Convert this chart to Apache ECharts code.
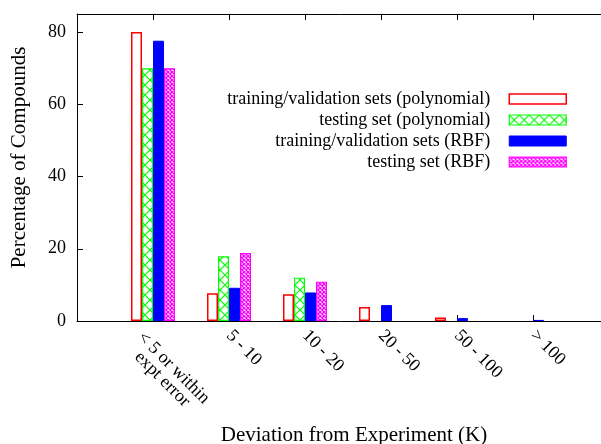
<!DOCTYPE html>
<html>
<head>
<meta charset="utf-8">
<script src="https://cdn.jsdelivr.net/npm/echarts@6/dist/echarts.min.js"></script>
<style>
  html, body { margin: 0; padding: 0; background: #fff; overflow: hidden; }
  #chart { width: 601px; height: 444px; }
</style>
</head>
<body>
<div id="chart"></div>
<script>
// Deviation bins on the horizontal axis
const categories = ['< 5 or within\nexpt error', '5 - 10', '10 - 20', '20 - 50', '50 - 100', '> 100'];

// Percentage of compounds in each bin
const trainPoly = [80, 7.7, 7.4, 3.9, 1.0, 0];
const testPoly = [70, 17.9, 12.0, 0, 0, 0];
const trainRbf = [77.6, 9.2, 7.9, 4.4, 0.8, 0.3];
const testRbf = [70, 18.8, 10.9, 0, 0, 0];

const seriesNames = [
  'training/validation sets (polynomial)',
  'testing set (polynomial)',
  'training/validation sets (RBF)',
  'testing set (RBF)'
];

const yTicks = [0, 20, 40, 60, 80];

const FONT = 'Liberation Serif';

// Hatch fills drawn on small tiles
function hatch(size, color, lw) {
  const c = document.createElement('canvas');
  c.width = size; c.height = size;
  const g = c.getContext('2d');
  g.fillStyle = '#fff';
  g.fillRect(0, 0, size, size);
  g.strokeStyle = color;
  g.lineWidth = lw;
  g.beginPath();
  g.moveTo(0, 0); g.lineTo(size, size);
  g.moveTo(size, 0); g.lineTo(0, size);
  g.stroke();
  return { image: c, repeat: 'repeat' };
}

const styles = [
  { color: '#ffffff', borderColor: '#ff0000', borderWidth: 1.5 },
  { color: hatch(10, '#00ff00', 1.2), borderColor: '#00ff00', borderWidth: 1.2 },
  { color: '#0000ff', borderColor: '#0000ff', borderWidth: 1 },
  { color: hatch(4, '#ff00ff', 1.3), borderColor: '#ff00ff', borderWidth: 1.2 }
];

// bin index paired with value; empty bins draw nothing
function points(values) {
  const out = [];
  values.forEach((v, i) => { if (v > 0) out.push([i, v]); });
  return out;
}

const allValues = [trainPoly, testPoly, trainRbf, testRbf];

const baseX = {
  type: 'value',
  min: -1,
  max: 6,
  interval: 1,
  splitLine: { show: false }
};

const chart = echarts.init(document.getElementById('chart'), null, { renderer: 'canvas' });

chart.setOption({
  animation: false,
  backgroundColor: '#ffffff',
  grid: { left: 77, top: 14, width: 532, height: 307, containLabel: false, outerBoundsMode: 'none' },
  legend: {
    right: 29,
    top: 85,
    orient: 'vertical',
    align: 'right',
    itemWidth: 57,
    itemHeight: 10,
    itemGap: 3,
    textStyle: { fontFamily: FONT, fontSize: 18, color: '#000', padding: [0, 14, 0, 0] },
    data: seriesNames.map((n, k) => ({ name: n, icon: 'rect', itemStyle: styles[k] }))
  },
  xAxis: [
    Object.assign({}, baseX, {
      position: 'bottom',
      axisLine: { show: true, onZero: false, lineStyle: { color: '#000', width: 1 } },
      axisTick: { show: true, inside: true, length: 6, lineStyle: { color: '#000' } },
      axisLabel: {
        rotate: -45,
        margin: 12,
        padding: [11, 0, 0, 0],
        fontFamily: FONT,
        fontSize: 18,
        color: '#000',
        formatter: v => (v >= 1 && v < categories.length ? categories[v] : '')
      },
      name: 'Deviation from Experiment (K)',
      nameLocation: 'middle',
      nameGap: 104,
      nameMoveOverlap: false,
      nameTextStyle: { fontFamily: FONT, fontSize: 21, color: '#000', padding: [0, 0, 0, 22] }
    }),
    // mirrored ticks along the top border
    Object.assign({}, baseX, {
      position: 'top',
      axisLine: { show: true, onZero: false, lineStyle: { color: '#000', width: 1 } },
      axisTick: { show: true, inside: true, length: 6, lineStyle: { color: '#000' } },
      axisLabel: { show: false }
    }),
    // two-line label of the first bin: lines centred on each other, block starting at the tick
    Object.assign({}, baseX, {
      position: 'bottom',
      axisLine: { show: false, onZero: false },
      axisTick: { show: false },
      axisLabel: {
        rotate: -45,
        margin: 8,
        align: 'center',
        verticalAlign: 'top',
        padding: [5, 0, 0, 84],
        lineHeight: 16,
        fontFamily: FONT,
        fontSize: 18,
        color: '#000',
        formatter: v => (v === 0 ? categories[0] : '')
      }
    })
  ],
  yAxis: {
    type: 'value',
    min: 0,
    max: 85,
    interval: 20,
    splitLine: { show: false },
    axisLine: { show: true, onZero: false, lineStyle: { color: '#000', width: 1 } },
    axisTick: { show: true, inside: true, length: 6, lineStyle: { color: '#000' } },
    axisLabel: {
      margin: 11,
      fontFamily: FONT,
      fontSize: 18,
      color: '#000',
      formatter: v => (yTicks.indexOf(v) >= 0 ? String(v) : '')
    },
    name: 'Percentage of Compounds',
    nameLocation: 'middle',
    nameGap: 47,
    nameMoveOverlap: false,
    nameTextStyle: { fontFamily: FONT, fontSize: 21, color: '#000', padding: [0, 0, 0, 20] }
  },
  series: allValues.map((vals, k) => ({
    name: seriesNames[k],
    type: 'bar',
    xAxisIndex: 0,
    barWidth: 11,
    barGap: '0%',
    itemStyle: styles[k],
    emphasis: { disabled: true },
    data: points(vals)
  }))
});
</script>
</body>
</html>
